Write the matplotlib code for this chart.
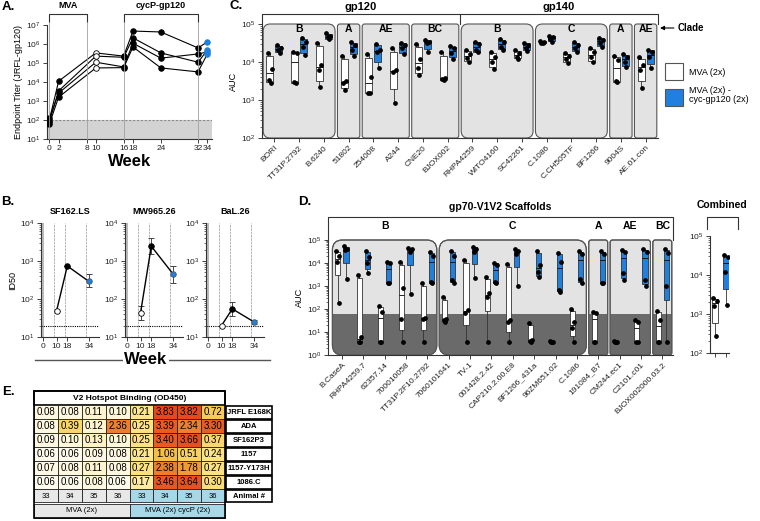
import numpy as np
import matplotlib
matplotlib.use("Agg")
import matplotlib.pyplot as plt
from matplotlib.lines import Line2D
from matplotlib.patches import FancyBboxPatch, Rectangle
from matplotlib.transforms import IdentityTransform, blended_transform_factory
from matplotlib.colors import LinearSegmentedColormap

plt.rcParams["font.family"] = ["Liberation Sans", "DejaVu Sans"]
plt.rcParams["mathtext.default"] = "regular"
plt.rcParams["axes.linewidth"] = 0.8
plt.rcParams["axes.edgecolor"] = "#333333"

W, H = 760, 521
BLUE = "#1f80e0"

# ---------------- data ----------------
# A: endpoint titers (JRFL-gp120), one list per animal
A_weeks = [0, 2, 10, 16, 18, 24, 32, 34]
A_ticks = [0, 2, 8, 10, 16, 18, 24, 32, 34]
A_titers = [
    [100, 11000, 340000, 230000, 4800000, 4300000, 620000, 1300000],
    [80, 3400, 230000, 200000, 2100000, 340000, 110000, 480000],
    [120, 2600, 110000, 62000, 1100000, 180000, 300000, 380000],
    [60, 1600, 55000, 57000, 700000, 55000, 34000, 300000],
]
A_phases = [("MVA", 0, 8), ("cycP-gp120", 16, 32)]

# B: neutralization ID50 (mean, lower, upper)
B_titles = ["SF162.LS", "MW965.26", "BaL.26"]
B_weeks = [10, 18, 34]
B_ticks = [0, 10, 18, 34]
B_mean = [[48, 740, 290], [43, 2450, 460], [20, 55, 25]]
B_lo = [[48, 740, 210], [28, 1500, 265], [20, 36, 22]]
B_hi = [[48, 740, 460], [66, 4000, 740], [20, 83, 28]]

# C: gp120 / gp140 binding AUC
C_names = ["BORI", "TT31P.2792", "B.6240", "51802", "254008", "A244", "CNE20",
           "BJOX002", "RHPA4259", "WITO4160", "SC42261", "C.1086", "C.CH505TF",
           "BF1266", "9004S", "AE.01.con"]
C_groups = [("B", 0, 2), ("A", 3, 3), ("AE", 4, 5), ("BC", 6, 7),
            ("B", 8, 10), ("C", 11, 13), ("A", 14, 14), ("AE", 15, 15)]
C_mva = [
    [17000, 6600, 3400, 2800], [18000, 17000, 3000, 2800], [32000, 8300, 6200, 2200],
    [14500, 3200, 2800, 1800], [16000, 4000, 1500, 1500], [23000, 6200, 5500, 830],
    [30000, 12000, 7000, 4600], [18000, 3800, 3600, 3400], [21000, 16000, 13000, 10000],
    [18000, 13500, 10000, 6600], [21000, 17000, 13500, 12000], [36000, 34000, 32000, 31000],
    [17000, 14500, 12000, 9400], [23000, 18000, 13500, 10000], [14500, 11000, 3200, 3000],
    [13500, 8300, 6200, 2100],
]
C_cyc = [
    [28000, 23000, 21000, 17000], [43000, 34000, 25000, 15000], [58000, 48000, 45000, 40000],
    [34000, 28000, 21000, 14500], [30000, 21000, 18000, 7000], [32000, 28000, 23000, 16000],
    [38000, 34000, 32000, 18000], [26000, 23000, 17000, 12000], [34000, 30000, 21000, 18000],
    [40000, 34000, 25000, 21000], [32000, 28000, 23000, 19500], [48000, 45000, 40000, 34000],
    [34000, 28000, 23000, 18000], [43000, 38000, 32000, 25000], [16000, 13500, 10000, 7400],
    [21000, 18000, 13500, 7000],
]

# D: gp70-V1V2 scaffolds AUC
D_names = ["B.CaseA", "RHPA4259.7", "62357.14", "700010058", "TT31P.2F10.2792",
           "7060101641", "TV-1", "001428.2.42", "CAP210.2.00.E8", "BF1266_431a",
           "96ZM651.02", "C.1086", "191084_B7", "CM244.ec1", "C2101.c01",
           "BJOX002000.03.2"]
D_groups = [("B", 0, 4), ("C", 5, 11), ("A", 12, 12), ("AE", 13, 14), ("BC", 15, 15)]
D_mva = [
    [32000, 20000, 11000, 180], [3000, 6, 3.5, 3.5], [140, 75, 3.5, 3.5],
    [11000, 800, 37, 3.5], [1350, 40, 37, 3.5], [320, 38, 32, 27],
    [13500, 90, 67, 3.5], [2500, 500, 330, 3.5], [9000, 33, 27, 3.7],
    [25, 4.5, 4, 3.7], [4, 3.8, 3.6, 3.5], [100, 27, 15, 3.7],
    [75, 67, 3.8, 3.6], [4, 3.8, 3.6, 3.5], [33, 27, 3.8, 3.6], [85, 33, 3.8, 3.5],
]
D_cyc = [
    [55000, 42000, 35000, 2000], [33000, 18000, 10000, 3700], [11500, 10000, 1400, 1300],
    [45000, 40000, 30000, 450], [30000, 20000, 1450, 1350], [32000, 20000, 1800, 1300],
    [50000, 40000, 30000, 2200], [10500, 8500, 1500, 1350], [40000, 33000, 25000, 1000],
    [32000, 8000, 4200, 2400], [28000, 11000, 700, 550], [33000, 25000, 2000, 1300],
    [32000, 25000, 1400, 1300], [35000, 30000, 3700, 1800], [40000, 30000, 1800, 1000],
    [40000, 26000, 1000, 3.7],
]
D_cutoff = 60
K_mva = [2500, 2200, 1600, 270]
K_cyc = [32000, 29000, 12000, 1700]

# E: V2 hotspot binding (OD450)
E_rows = ["JRFL E168K", "ADA", "SF162P3", "1157", "1157-Y173H", "1086.C"]
E_vals = [
    [0.08, 0.08, 0.11, 0.10, 0.21, 3.83, 3.82, 0.72],
    [0.08, 0.39, 0.12, 2.36, 0.25, 3.39, 2.34, 3.30],
    [0.09, 0.10, 0.13, 0.10, 0.25, 3.40, 3.66, 0.37],
    [0.06, 0.06, 0.09, 0.08, 0.21, 1.06, 0.51, 0.24],
    [0.07, 0.08, 0.11, 0.08, 0.27, 2.38, 1.78, 0.27],
    [0.06, 0.06, 0.08, 0.06, 0.17, 3.46, 3.64, 0.30],
]
E_animals = [33, 34, 35, 36, 33, 34, 35, 36]
E_groups = ["MVA (2x)", "MVA (2x) cycP (2x)"]

# ---------------- helpers ----------------
fig = plt.figure(figsize=(W / 100, H / 100), dpi=100)


def add_ax(l, t, r, b):
    ax = fig.add_axes([l / W, 1 - b / H, (r - l) / W, (b - t) / H])
    ax.patch.set_alpha(0)
    for s in ("top", "right"):
        ax.spines[s].set_visible(False)
    ax.tick_params(labelsize=6, length=3, width=0.6, pad=1.5, colors="#222222")
    ax.tick_params(which="minor", length=1.5, width=0.4)
    return ax


def px(ax, x, y):
    dx, dy = ax.transData.transform((x, y))
    return dx, H - dy


def fline(xs, ys, **kw):
    kw.setdefault("color", "#333333")
    kw.setdefault("lw", 0.8)
    fig.add_artist(Line2D([x / W for x in xs], [1 - y / H for y in ys],
                          transform=fig.transFigure, **kw))


def ftext(x, y, s, **kw):
    kw.setdefault("ha", "center")
    kw.setdefault("va", "center")
    fig.text(x / W, 1 - y / H, s, **kw)


OFFS = np.array([-0.3, 0.3, -0.1, 0.15])


def draw_box(ax, vals, x, w, color):
    v = np.asarray(vals, float)
    q1, med, q3 = np.percentile(v, [25, 50, 75], method="weibull")
    st = dict(med=med, q1=q1, q3=q3, whislo=v.min(), whishi=v.max(), fliers=[])
    ax.bxp([st], positions=[x], widths=w, patch_artist=True, showcaps=False,
           showfliers=False, manage_ticks=False, zorder=3,
           boxprops=dict(facecolor=color, edgecolor="#333333", lw=0.6),
           medianprops=dict(color="black", lw=0.6),
           whiskerprops=dict(color="#333333", lw=0.6))
    ax.plot(x + OFFS * w, v, "o", color="black", ms=2.4, zorder=4)


def group_boxes(ax, groups, radius_big, gap=1.2, dark=None, label_y=None):
    bb = ax.bbox
    for lbl, s, e in groups:
        x0 = ax.transData.transform((s - 0.5, 1))[0] + gap
        x1 = ax.transData.transform((e + 0.5, 1))[0] - gap
        rad = radius_big if (x1 - x0) > 60 else 2.5
        p = FancyBboxPatch((x0, bb.y0), x1 - x0, bb.height,
                           boxstyle=f"round,pad=0,rounding_size={rad}",
                           transform=IdentityTransform(), fc="#e3e3e3", ec="#555555",
                           lw=0.8, zorder=0.5, clip_on=False)
        ax.add_patch(p)
        if dark is not None:
            r = Rectangle((s - 0.5, ax.get_ylim()[0]), e - s + 1, dark - ax.get_ylim()[0],
                          fc="#6a6a6a", ec="none", zorder=0.6)
            ax.add_patch(r)
            r.set_clip_path(p)
            p2 = FancyBboxPatch((x0, bb.y0), x1 - x0, bb.height,
                                boxstyle=f"round,pad=0,rounding_size={rad}",
                                transform=IdentityTransform(), fc="none", ec="#555555",
                                lw=0.8, zorder=0.7, clip_on=False)
            ax.add_patch(p2)
        tr = blended_transform_factory(ax.transData, ax.transAxes)
        ax.text((s + e) / 2, label_y, lbl, transform=tr, ha="center", va="center",
                fontsize=7.5, weight="bold", clip_on=False)


# ---------------- panel A ----------------
axA = add_ax(47, 25, 212, 139)
axA.set_yscale("log")
axA.set_ylim(10, 1e7)
axA.set_xlim(-0.5, 35)
axA.set_xticks(A_ticks)
axA.set_yticks([10.0 ** k for k in range(1, 8)])
axA.axhspan(10, 100, color="#d3d3d3", lw=0, zorder=0)
axA.axhline(100, color="#8a8a8a", lw=0.8, ls=(0, (2, 1.5)), zorder=1)
for lbl, w0, w1 in A_phases:
    x0 = px(axA, w0, 10)[0]
    x1 = px(axA, w1, 10)[0]
    fline([x0, x0, x1, x1], [22, 14, 14, 22])
    ftext((x0 + x1) / 2, 6, lbl, fontsize=6.5, weight="bold")
    for x in (x0, x1):
        fline([x, x], [22, 139], color="#a0a0a0", lw=0.6)
for vals in A_titers:
    axA.plot(A_weeks, vals, color="black", lw=0.8, zorder=2)
    for wk, v in zip(A_weeks, vals):
        fc = "white" if wk == 10 else (BLUE if wk == 34 else "black")
        ec = BLUE if wk == 34 else "black"
        axA.plot(wk, v, "o", ms=4, mfc=fc, mec=ec, mew=0.6, zorder=3)
axA.set_ylabel("Endpoint Titer (JRFL-gp120)", fontsize=6.5, labelpad=2)
axA.set_xlabel("Week", fontsize=12, weight="bold", labelpad=1)

# ---------------- panel B ----------------
for i, l in enumerate([41, 125, 206]):
    ax = add_ax(l, 223, l + 58, 337)
    ax.set_yscale("log")
    ax.set_ylim(10, 1e4)
    ax.set_xlim(-1.5, 41.5)
    ax.set_xticks(B_ticks)
    ax.set_yticks([10.0 ** k for k in range(1, 5)])
    for wk in (0, 8, 16, 32):
        ax.axvline(wk, color="#a8a8a8", lw=0.6, ls=(0, (3, 1)), zorder=0)
    ax.axvline(0, color="#bbbbbb", lw=1.4, zorder=0)
    ax.axhline(20, color="black", lw=0.8, ls=(0, (1, 1)), zorder=1)
    m = np.array(B_mean[i], float)
    err = [m - np.array(B_lo[i]), np.array(B_hi[i]) - m]
    ax.errorbar(B_weeks, m, yerr=err, fmt="none", ecolor="#444444", elinewidth=0.7,
                capsize=2, capthick=0.7, zorder=2)
    ax.plot(B_weeks, m, color="black", lw=1, zorder=2)
    for wk, v in zip(B_weeks, m):
        fc = "white" if wk == 10 else (BLUE if wk == 34 else "black")
        ec = "#555555" if wk == 34 else "black"
        ax.plot(wk, v, "o", ms=4, mfc=fc, mec=ec, mew=0.6, zorder=3)
    ftext(l + 29, 212, B_titles[i], fontsize=6.5, weight="bold")
    if i == 0:
        ax.set_ylabel("ID50", fontsize=6.5, labelpad=2)
fline([35, 270], [360, 360], color="#555555", lw=1)
ftext(146, 360, "Week", fontsize=12, weight="bold",
      bbox=dict(fc="white", ec="none", pad=1))

# ---------------- panel C ----------------
axC = add_ax(262, 24, 658, 138)
axC.set_yscale("log")
axC.set_ylim(100, 1e5)
axC.set_xlim(-0.5, 15.5)
axC.set_yticks([1e2, 1e3, 1e4, 1e5])
group_boxes(axC, C_groups, 7, label_y=1 - 5 / 114)
for i in range(len(C_names)):
    draw_box(axC, C_mva[i], i - 0.18, 0.28, "white")
    draw_box(axC, C_cyc[i], i + 0.18, 0.28, BLUE)
axC.set_xticks(range(len(C_names)))
axC.set_xticklabels(C_names, rotation=45, ha="right", rotation_mode="anchor", fontsize=6)
axC.set_ylabel("AUC", fontsize=6.5, labelpad=2)
xl = px(axC, -0.5, 100)[0]
xm = px(axC, 7.5, 100)[0]
xr = px(axC, 15.5, 100)[0]
fline([xl, xl, xm, xm], [24, 14, 14, 24])
fline([xm, xr, xr], [14, 14, 24])
ftext((xl + xm) / 2, 7, "gp120", fontsize=8, weight="bold")
ftext((xm + xr) / 2, 7, "gp140", fontsize=8, weight="bold")
axC.annotate("Clade", xy=(660 / W, 1 - 28 / H), xycoords="figure fraction",
             xytext=(678 / W, 1 - 28 / H), textcoords="figure fraction",
             ha="left", va="center", fontsize=7, weight="bold",
             arrowprops=dict(arrowstyle="-|>", lw=0.8, color="black",
                             mutation_scale=6, shrinkA=1, shrinkB=0))
for y, fc in ((63, "white"), (89, BLUE)):
    fig.add_artist(Rectangle((665 / W, 1 - (y + 17) / H), 18 / W, 17 / H,
                             transform=fig.transFigure, fc=fc, ec="#555555", lw=0.8))
ftext(689, 72, "MVA (2x)", fontsize=6.5, ha="left")
ftext(689, 95, "MVA (2x) -\ncyc-gp120 (2x)", fontsize=6.5, ha="left", linespacing=1.1)

# ---------------- panel D ----------------
axD = add_ax(328, 240, 673, 355)
axD.set_yscale("log")
axD.set_ylim(1, 1e5)
axD.set_xlim(-0.65, 15.5)
axD.set_yticks([10.0 ** k for k in range(0, 6)])
group_boxes(axD, D_groups, 10, dark=D_cutoff, label_y=1 + 14 / 115)
for i in range(len(D_names)):
    draw_box(axD, D_mva[i], i - 0.19, 0.24, "white")
    draw_box(axD, D_cyc[i], i + 0.19, 0.24, BLUE)
axD.set_xticks(range(len(D_names)))
axD.set_xticklabels(D_names, rotation=45, ha="right", rotation_mode="anchor", fontsize=6)
axD.set_ylabel("AUC", fontsize=6.5, labelpad=2)
xl = px(axD, -0.65, 1)[0]
xr = px(axD, 15.5, 1)[0]
fline([xl, xl, xr, xr], [240, 217, 217, 240])
ftext((xl + xr) / 2, 207, "gp70-V1V2 Scaffolds", fontsize=7.5, weight="bold")

axK = add_ax(710, 236, 729, 353)
axK.set_yscale("log")
axK.set_ylim(100, 1e5)
axK.set_xlim(-0.45, 1.3)
axK.set_yticks([1e2, 1e3, 1e4, 1e5])
axK.set_xticks([0, 1])
axK.set_xticklabels([])
draw_box(axK, K_mva, 0, 0.55, "white")
draw_box(axK, K_cyc, 1, 0.55, BLUE)
fline([707, 707, 738, 738], [229, 217, 217, 229])
ftext(722, 205, "Combined", fontsize=7.5, weight="bold")

# ---------------- panel E ----------------
axE = fig.add_axes([0, 0, 1, 1])
axE.set_xlim(0, W)
axE.set_ylim(H, 0)
axE.axis("off")
axE.patch.set_alpha(0)
cmap = LinearSegmentedColormap.from_list("v2", [
    (0.0, "#ffffff"), (0.1 / 3.9, "#fff6d6"), (0.2 / 3.9, "#fde68a"),
    (0.4 / 3.9, "#f9d466"), (1.1 / 3.9, "#f6bd45"), (1.8 / 3.9, "#f19a35"),
    (2.4 / 3.9, "#ee7c2b"), (3.4 / 3.9, "#ea5a21"), (1.0, "#e5461b")])
tx0, cw, lw_col = 34, 23.875, 46
ty0, rh = 391, 14
ncol = len(E_animals)
tw = ncol * cw
axE.add_patch(Rectangle((tx0, ty0), tw, rh, fc="white", ec="black", lw=1.2))
axE.text(tx0 + tw / 2, ty0 + rh / 2, "V2 Hotspot Binding (OD450)", ha="center",
         va="center", fontsize=6, weight="bold")
for r, (name, row) in enumerate(zip(E_rows, E_vals)):
    y = ty0 + rh * (r + 1)
    for c, v in enumerate(row):
        axE.add_patch(Rectangle((tx0 + c * cw, y), cw, rh, fc=cmap(min(v / 3.9, 1)),
                                ec="#222222", lw=0.6))
        axE.text(tx0 + (c + 0.5) * cw, y + rh / 2, f"{v:.2f}", ha="center",
                 va="center", fontsize=7)
    axE.add_patch(Rectangle((tx0 + tw + 1, y + 0.5), lw_col, rh - 1, fc="white",
                            ec="black", lw=1.2))
    axE.text(tx0 + tw + 1 + lw_col / 2, y + rh / 2, name, ha="center", va="center",
             fontsize=5.5, weight="bold")
ya = ty0 + rh * (len(E_rows) + 1)
for c, a in enumerate(E_animals):
    fc = "#e8e8e8" if c < ncol // 2 else "#a8d8e8"
    axE.add_patch(Rectangle((tx0 + c * cw, ya), cw, rh - 1, fc=fc, ec="#222222", lw=0.6))
    axE.text(tx0 + (c + 0.5) * cw, ya + rh / 2, str(a), ha="center", va="center",
             fontsize=5.5)
axE.add_patch(Rectangle((tx0 + tw + 1, ya + 0.5), lw_col, rh - 1.5, fc="white",
                        ec="black", lw=1.2))
axE.text(tx0 + tw + 1 + lw_col / 2, ya + rh / 2, "Animal #", ha="center", va="center",
         fontsize=5.5, weight="bold")
yg = ya + rh + 1
for g, name in enumerate(E_groups):
    fc = "#e8e8e8" if g == 0 else "#a8d8e8"
    axE.add_patch(Rectangle((tx0 + g * tw / 2, yg), tw / 2, rh, fc=fc, ec="#222222",
                            lw=0.6))
    axE.text(tx0 + (g + 0.5) * tw / 2, yg + rh / 2, name, ha="center", va="center",
             fontsize=5.5)
axE.add_patch(Rectangle((tx0, ty0), tw, yg + rh - ty0, fc="none", ec="black", lw=1.2))

# panel letters
for lbl, x, y in [("A.", 8, 7), ("B.", 8, 202), ("C.", 236, 6), ("D.", 305, 202),
                  ("E.", 8, 392)]:
    ftext(x, y, lbl, fontsize=9.5, weight="bold")

fig.savefig("out.png", dpi=100)
